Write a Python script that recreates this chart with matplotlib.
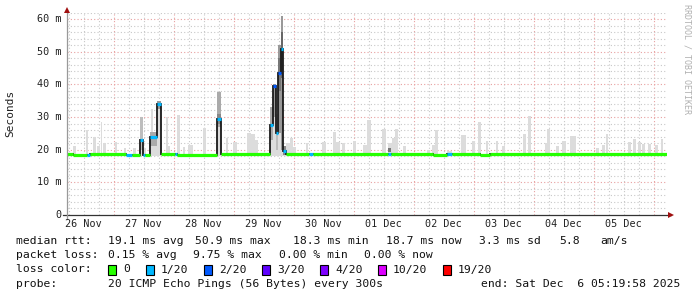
import matplotlib
matplotlib.use("Agg")
import matplotlib.pyplot as plt
from matplotlib.lines import Line2D

# ---------------- data (time in hours since 26 Nov 2025 00:00, values in ms) ----------------
t_start, t_end = 5.33, 245.33

# median rtt step series: edges and values, with loss count per step
med_edges = [5.3, 7.7, 13.3, 14.5, 28.9, 31.3, 34.5, 35.7, 36.5, 38.5, 41.3, 42.9,
             48.5, 49.3, 65.3, 66.9, 86.5, 87.7, 88.9, 89.7, 90.9, 91.7, 92.9,
             102.1, 103.7, 133.7, 134.9, 151.7, 157.3, 159.3, 170.5, 174.5, 245.3]
med_vals = [18.8, 18.4, 18.5, 18.6, 18.4, 18.4, 23.1, 18.5, 18.5, 24.0, 34.0,
            18.6, 18.6, 18.5, 29.3, 18.6, 27.5, 39.5, 25.2, 43.5, 50.9, 19.5,
            18.8, 18.8, 18.7, 18.7, 18.7, 18.4, 18.6, 18.7, 18.4, 18.7]
med_loss = [0, 0, 1, 0, 1, 0, 1, 1, 0, 1, 1,
            0, 1, 0, 1, 0, 1, 2, 1, 2, 1, 1,
            0, 1, 0, 1, 0, 0, 1, 0, 0, 0]

# light smoke bars: start, end, top
smoke_t0 = [7.7, 12.9, 15.7, 17.3, 18.9, 19.7, 24.5, 28.1, 31.7, 34.5, 35.7, 39.0, 39.7,
            41.3, 44.9, 45.7, 49.3, 51.7, 53.7, 59.7, 65.3, 68.9, 71.7, 77.3, 78.9, 80.5,
            86.5, 87.7, 88.9, 89.7, 90.9, 91.7, 92.9, 94.5, 95.7, 101.0, 107.3, 111.7,
            112.9, 115.3, 119.7, 123.7, 125.3, 131.3, 133.7, 135.3, 136.5, 139.7, 149.3,
            151.3, 152.5, 157.3, 162.9, 167.3, 169.7, 173.0, 177.0, 179.3, 187.7, 189.7,
            196.5, 197.3, 201.0, 203.3, 206.5, 216.9, 219.3, 220.9, 229.7, 231.7, 233.7,
            235.3, 237.7, 240.5, 242.9]
smoke_t1 = [8.9, 13.7, 16.9, 18.5, 19.5, 20.9, 25.3, 28.9, 32.9, 35.7, 36.9, 39.7, 41.3,
            42.9, 45.7, 46.5, 50.5, 52.5, 55.7, 60.9, 66.9, 69.7, 73.3, 78.9, 80.5, 81.7,
            87.7, 88.9, 89.7, 90.9, 91.7, 92.9, 94.5, 95.7, 96.9, 101.7, 108.9, 112.9,
            114.5, 116.5, 120.9, 125.3, 126.9, 132.9, 135.3, 136.5, 137.7, 140.9, 150.5,
            152.5, 153.7, 159.3, 164.9, 168.5, 170.9, 173.7, 177.7, 180.5, 188.9, 190.9,
            197.3, 198.5, 202.1, 204.9, 208.9, 218.1, 220.5, 221.7, 230.9, 232.9, 234.9,
            236.5, 238.9, 241.7, 243.7]
smoke_top = [21.0, 26.0, 24.0, 21.0, 28.5, 22.0, 22.5, 20.5, 20.5, 30.0, 20.5, 32.5, 25.5,
             35.0, 30.0, 21.0, 30.6, 20.7, 21.5, 26.5, 37.7, 23.5, 22.5, 25.0, 24.8, 23.0,
             33.0, 40.2, 31.0, 52.0, 61.0, 20.5, 22.0, 23.5, 20.7, 22.0, 22.5, 25.5,
             22.5, 22.0, 22.8, 21.5, 29.0, 26.3, 22.0, 23.5, 26.3, 21.0, 19.8,
             21.5, 26.0, 19.5, 24.5, 22.8, 28.4, 22.8, 22.6, 21.0, 24.8, 30.3,
             22.0, 26.3, 21.2, 22.6, 24.2, 20.5, 21.5, 24.8, 22.3, 23.3, 22.3,
             21.8, 21.8, 21.3, 23.4]
smoke_bottom = 18.2

# darker smoke around the spikes: start, end, low, high, shade
dark_t0 = [34.5, 38.5, 41.3, 65.3, 65.3, 86.5, 87.7, 88.9, 89.7, 89.7, 90.9, 90.9, 91.7, 133.7]
dark_t1 = [35.7, 41.3, 42.9, 66.9, 66.9, 87.7, 88.9, 89.7, 90.9, 90.9, 91.7, 91.7, 92.9, 134.9]
dark_lo = [20.0, 21.0, 32.5, 27.0, 28.0, 23.0, 30.0, 20.0, 25.0, 38.0, 20.0, 42.0, 18.5, 19.2]
dark_hi = [30.0, 25.5, 35.0, 37.7, 31.0, 33.0, 40.2, 30.0, 52.0, 48.0, 61.0, 56.0, 21.0, 20.6]
dark_shade = ["#bdbdbd", "#aaaaaa", "#999999", "#aaaaaa", "#888888", "#aaaaaa", "#999999",
              "#bbbbbb", "#999999", "#777777", "#999999", "#666666", "#888888", "#777777"]

loss_colors = ["#26ff00", "#00b8ff", "#0059ff", "#5e00ff", "#7e00ff", "#dd00ff", "#ff0000"]
loss_labels = ["0", "1/20", "2/20", "3/20", "4/20", "10/20", "19/20"]

day_labels = ["26 Nov", "27 Nov", "28 Nov", "29 Nov", "30 Nov",
              "01 Dec", "02 Dec", "03 Dec", "04 Dec", "05 Dec"]
y_major = [0, 10, 20, 30, 40, 50, 60]
y_labels = ["0", "10 m", "20 m", "30 m", "40 m", "50 m", "60 m"]

legend_rows = [
    ("median rtt:", [(107.5, "19.1 ms avg"), (195, "50.9 ms max"), (293, "18.3 ms min"),
                     (386, "18.7 ms now"), (479, "3.3 ms sd"), (559, "5.8"), (600, "am/s")]),
    ("packet loss:", [(107.5, "0.15 % avg"), (193, "9.75 % max"), (279, "0.00 % min"),
                      (364, "0.00 % now")]),
]
loss_box_x = [108, 146, 204, 262, 320, 378, 443]
probe_text = "20 ICMP Echo Pings (56 Bytes) every 300s"
end_text = "end: Sat Dec  6 05:19:58 2025"

# ---------------- figure ----------------
W, H = 697, 297
fig = plt.figure(figsize=(W / 100, H / 100), dpi=100)
fig.patch.set_facecolor("white")
mono = "DejaVu Sans Mono"

def fx(px):
    return px / W

def fy(py):
    return 1 - py / H

ax_left, ax_right, ax_top, ax_bottom = 67, 667, 12.5, 215
ax = fig.add_axes([fx(ax_left), fy(ax_bottom), (ax_right - ax_left) / W, (ax_bottom - ax_top) / H])
ax.set_xlim(t_start, t_end)
ax.set_ylim(0, 62)
ax.set_facecolor("white")
for s in ax.spines.values():
    s.set_visible(False)
ax.set_xticks([])
ax.set_yticks([])

# grid
dot = (0, (1, 2))
h = 6
while h < t_end + 3:
    if h > t_start and h <= t_end + 1:
        if h % 24 == 0:
            ax.axvline(h, color="#e8a0a0", lw=0.8, ls=dot, zorder=1)
        else:
            ax.axvline(h, color="#c8c8c8", lw=0.8, ls=dot, zorder=1)
    h += 6
for yv in range(2, 63, 2):
    if yv % 10 == 0:
        ax.axhline(yv, color="#e8a0a0", lw=0.8, ls=dot, zorder=1)
    else:
        ax.axhline(yv, color="#c8c8c8", lw=0.8, ls=dot, zorder=1)

# smoke
widths = [b - a for a, b in zip(smoke_t0, smoke_t1)]
heights = [t - smoke_bottom for t in smoke_top]
ax.bar(smoke_t0, heights, width=widths, bottom=smoke_bottom, align="edge",
       color="#dcdcdc", lw=0, zorder=2)
dw = [b - a for a, b in zip(dark_t0, dark_t1)]
dh = [b - a for a, b in zip(dark_lo, dark_hi)]
ax.bar(dark_t0, dh, width=dw, bottom=dark_lo, align="edge", color=dark_shade, lw=0, zorder=3)

# median line: dark step line + loss-coloured horizontal segments
ax.stairs(med_vals, med_edges, baseline=None, color="#1a1a1a", lw=1.3, zorder=4)
ax.hlines(med_vals, med_edges[:-1], med_edges[1:],
          colors=[loss_colors[l] for l in med_loss], lw=2.3, zorder=5)

# axes lines and arrows (figure coords)
fig.add_artist(Line2D([fx(63), fx(671)], [fy(215), fy(215)], color="#333333", lw=0.9))
fig.add_artist(Line2D([fx(67), fx(67)], [fy(219), fy(11)], color="#999999", lw=0.9))
fig.add_artist(Line2D([fx(671)], [fy(215)], marker=">", ms=4, color="#a01010", mew=0))
fig.add_artist(Line2D([fx(67)], [fy(10)], marker="^", ms=4, color="#a01010", mew=0))

# y tick labels
for yv, lab in zip(y_major, y_labels):
    py = ax_bottom - yv * (ax_bottom - ax_top) / 62
    fig.text(fx(61), fy(py), lab, ha="right", va="center", family=mono, fontsize=7.3, color="#222222")
# x tick labels (centred on noon of each day)
for i, lab in enumerate(day_labels):
    hh = 12 + 24 * i
    px = ax_left + (hh - t_start) / (t_end - t_start) * (ax_right - ax_left)
    fig.text(fx(px), fy(224), lab, ha="center", va="center", family=mono, fontsize=7.3, color="#222222")

fig.text(fx(10), fy(113), "Seconds", rotation=90, ha="center", va="center",
         family=mono, fontsize=8, color="#222222")
fig.text(fx(687), fy(4), "RRDTOOL / TOBI OETIKER", rotation=270, ha="center", va="top",
         family=mono, fontsize=6.0, color="#b0b0b0")

# legend
fs = 8.2
rows_y = [241, 255.5, 269.5, 284]
for (title, items), py in zip(legend_rows, rows_y[:2]):
    fig.text(fx(16), fy(py), title, ha="left", va="center", family=mono, fontsize=fs, color="#111111")
    for px, txt in items:
        fig.text(fx(px), fy(py), txt, ha="left", va="center", family=mono, fontsize=fs, color="#111111")

py = rows_y[2]
fig.text(fx(16), fy(py), "loss color:", ha="left", va="center", family=mono, fontsize=fs, color="#111111")
for bx, col, lab in zip(loss_box_x, loss_colors, loss_labels):
    fig.add_artist(plt.Rectangle((fx(bx), fy(py + 5)), 8 / W, 10 / H, facecolor=col,
                                 edgecolor="#000000", lw=0.8, transform=fig.transFigure))
    fig.text(fx(bx + 15), fy(py), lab, ha="left", va="center", family=mono, fontsize=fs, color="#111111")

py = rows_y[3]
fig.text(fx(16), fy(py), "probe:", ha="left", va="center", family=mono, fontsize=fs, color="#111111")
fig.text(fx(107.5), fy(py), probe_text, ha="left", va="center", family=mono, fontsize=fs, color="#111111")
fig.text(fx(680), fy(py), end_text, ha="right", va="center", family=mono, fontsize=fs, color="#111111")

fig.savefig("out.png", dpi=100, facecolor="white")
